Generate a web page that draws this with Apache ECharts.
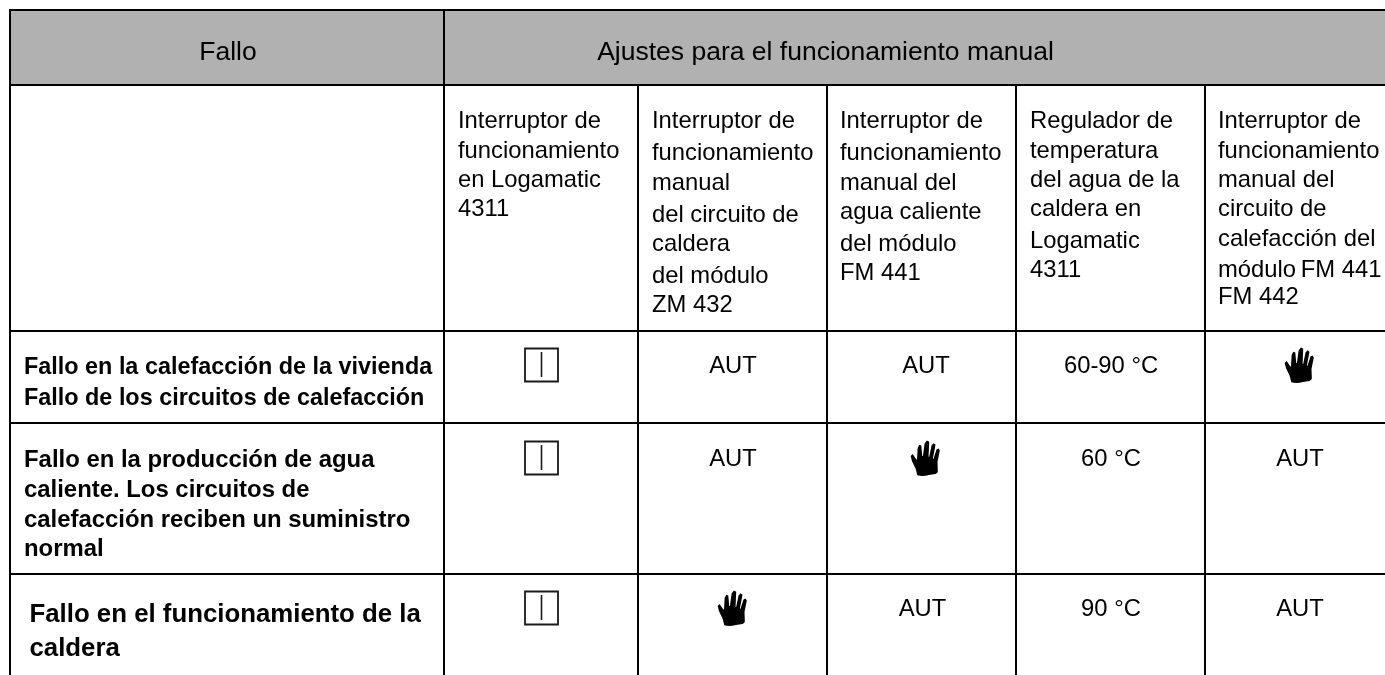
<!DOCTYPE html>
<html>
<head>
<meta charset="utf-8">
<title>Ajustes para el funcionamiento manual</title>
<script src="https://cdn.jsdelivr.net/npm/echarts@6/dist/echarts.min.js"></script>
<style>
html, body { margin: 0; padding: 0; background: #fff; }
#chart { width: 1385px; height: 675px; }
</style>
</head>
<body>
<div id="chart"></div>
<script>
// table content
var headerLabels = ['Fallo', 'Ajustes para el funcionamiento manual'];
var columnTitles = [
	['Interruptor de', 'funcionamiento', 'en Logamatic', '4311'],
	['Interruptor de', 'funcionamiento', 'manual', 'del circuito de', 'caldera', 'del módulo', 'ZM 432'],
	['Interruptor de', 'funcionamiento', 'manual del', 'agua caliente', 'del módulo', 'FM 441'],
	['Regulador de', 'temperatura', 'del agua de la', 'caldera en', 'Logamatic', '4311'],
	['Interruptor de', 'funcionamiento', 'manual del', 'circuito de', 'calefacción del', 'módulo\u2009FM 441', 'FM 442']
];
var faultLabels = [
	['Fallo en la calefacción de la vivienda', 'Fallo de los circuitos de calefacción'],
	['Fallo en la producción de agua', 'caliente. Los circuitos de', 'calefacción reciben un suministro', 'normal'],
	['Fallo en el funcionamiento de la', 'caldera']
];
// SWITCH = caja con la posicion I, HAND = simbolo de mano
var row1Settings = ['SWITCH', 'AUT', 'AUT', '60-90 °C', 'HAND'];
var row2Settings = ['SWITCH', 'AUT', 'HAND', '60 °C', 'AUT'];
var row3Settings = ['SWITCH', 'HAND', 'AUT', '90 °C', 'AUT'];
var settingRows = [row1Settings, row2Settings, row3Settings];

// layout in page pixels
var W = 1385, H = 675;
var colX = [10, 444, 638, 827, 1016, 1205];
var rowY = [10, 85, 331, 423, 574];
var headerGray = '#b1b1b1';
var ink = '#000000';
var fontName = '"Liberation Sans", Arial, sans-serif';
var titleX = [458, 652, 840, 1030, 1218];
var titleLineY = [
	[121, 151, 180, 209],
	[121, 153, 183, 215, 244, 276, 305],
	[121, 153, 183, 212, 244, 273],
	[121, 151, 180, 209, 241, 270],
	[121, 151, 180, 209, 239, 270, 297]
];
var faultX = [24, 24, 29.5];
var faultLineY = [[368, 399], [460, 490, 520, 549], [615, 649]];
var faultSize = [23.4, 23.9, 25.8];
var settingY = [366, 459, 609];
var settingX = [541.5, 733, 926, 1111, 1300];
var handPath = 'M135 52 L141 46 L149 58 L154 64 L156 28 L161 18 L167 20 L170 52 L172 52 L177 14 L184 5 L191 9 L189 54 L191 54 L198 20 L204 13 L210 18 L202 60 L204 60 L213 32 L219 29 L223 35 L216 70 L217 98 Q216 106 205 107 L190 109 Q172 115 155 110 L150 90 L139 68 Z';

var lineItems = [];
rowY.forEach(function (y) {
	lineItems.push([9, y, W, y]);
});
colX.forEach(function (x, i) {
	lineItems.push([x, i < 2 ? 9 : 85, x, H]);
});

var textItems = [];
textItems.push({ text: headerLabels[0], x: 228, y: 53, size: 26.5, align: 'center' });
textItems.push({ text: headerLabels[1], x: 825.5, y: 53, size: 26.5, align: 'center' });
columnTitles.forEach(function (lines, c) {
	lines.forEach(function (t, l) {
		textItems.push({ text: t, x: titleX[c], y: titleLineY[c][l], size: 23.8, align: 'left' });
	});
});
faultLabels.forEach(function (lines, r) {
	lines.forEach(function (t, l) {
		textItems.push({ text: t, x: faultX[r], y: faultLineY[r][l], size: faultSize[r], align: 'left', bold: true });
	});
});

var handItems = [];
var switchItems = [];
settingRows.forEach(function (cells, r) {
	cells.forEach(function (v, c) {
		var x = settingX[c];
		if (r === 2 && c === 2) x = 922.5;
		if (v === 'HAND') {
			handItems.push([x, settingY[r]]);
		} else if (v === 'SWITCH') {
			switchItems.push([x, settingY[r]]);
		} else {
			textItems.push({ text: v, x: x, y: settingY[r], size: 23.8, align: 'center' });
		}
	});
});

var chart = echarts.init(document.getElementById('chart'));
chart.setOption({
	animation: false,
	backgroundColor: '#ffffff',
	grid: { left: 0, right: 0, top: 0, bottom: 0 },
	xAxis: { type: 'value', min: 0, max: W, show: false },
	yAxis: { type: 'value', min: 0, max: H, inverse: true, show: false },
	series: [
		{
			// gray header band
			type: 'custom',
			coordinateSystem: 'cartesian2d',
			silent: true,
			z: 1,
			data: [[10, 10, W, 85]],
			renderItem: function (params, api) {
				var a = api.coord([api.value(0), api.value(1)]);
				var b = api.coord([api.value(2), api.value(3)]);
				return { type: 'rect', shape: { x: a[0], y: a[1], width: b[0] - a[0], height: b[1] - a[1] }, style: { fill: headerGray } };
			}
		},
		{
			// table rules
			type: 'custom',
			coordinateSystem: 'cartesian2d',
			silent: true,
			z: 2,
			data: lineItems,
			renderItem: function (params, api) {
				var a = api.coord([api.value(0), api.value(1)]);
				var b = api.coord([api.value(2), api.value(3)]);
				return { type: 'line', shape: { x1: a[0], y1: a[1], x2: b[0], y2: b[1] }, style: { stroke: '#000', lineWidth: 2 } };
			}
		},
		{
			// operating switch symbol
			type: 'custom',
			coordinateSystem: 'cartesian2d',
			silent: true,
			z: 3,
			data: switchItems,
			renderItem: function (params, api) {
				var c = api.coord([api.value(0), api.value(1)]);
				return {
					type: 'group',
					children: [
						{ type: 'rect', shape: { x: c[0] - 16.5, y: c[1] - 17.5, width: 33, height: 33 }, style: { fill: 'none', stroke: '#1a1a1a', lineWidth: 1.8 } },
						{ type: 'line', shape: { x1: c[0], y1: c[1] - 14, x2: c[0], y2: c[1] + 11 }, style: { stroke: '#1a1a1a', lineWidth: 1.6 } }
					]
				};
			}
		},
		{
			// manual operation hand symbol
			type: 'custom',
			coordinateSystem: 'cartesian2d',
			silent: true,
			z: 3,
			data: handItems,
			renderItem: function (params, api) {
				var c = api.coord([api.value(0), api.value(1)]);
				return {
					type: 'path',
					shape: { pathData: handPath, x: c[0] - 15.5, y: c[1] - 18.5, width: 29.5, height: 35.5 },
					style: { fill: '#000' }
				};
			}
		},
		{
			type: 'custom',
			coordinateSystem: 'cartesian2d',
			silent: true,
			z: 4,
			data: textItems.map(function (t) { return [t.x, t.y]; }),
			renderItem: function (params, api) {
				var t = textItems[params.dataIndex];
				var c = api.coord([api.value(0), api.value(1)]);
				return {
					type: 'text',
					style: {
						text: t.text,
						x: c[0],
						y: c[1],
						fill: ink,
						align: t.align,
						verticalAlign: 'middle',
						font: (t.bold ? 'bold ' : '') + t.size + 'px ' + fontName
					}
				};
			}
		}
	]
});
</script>
</body>
</html>
